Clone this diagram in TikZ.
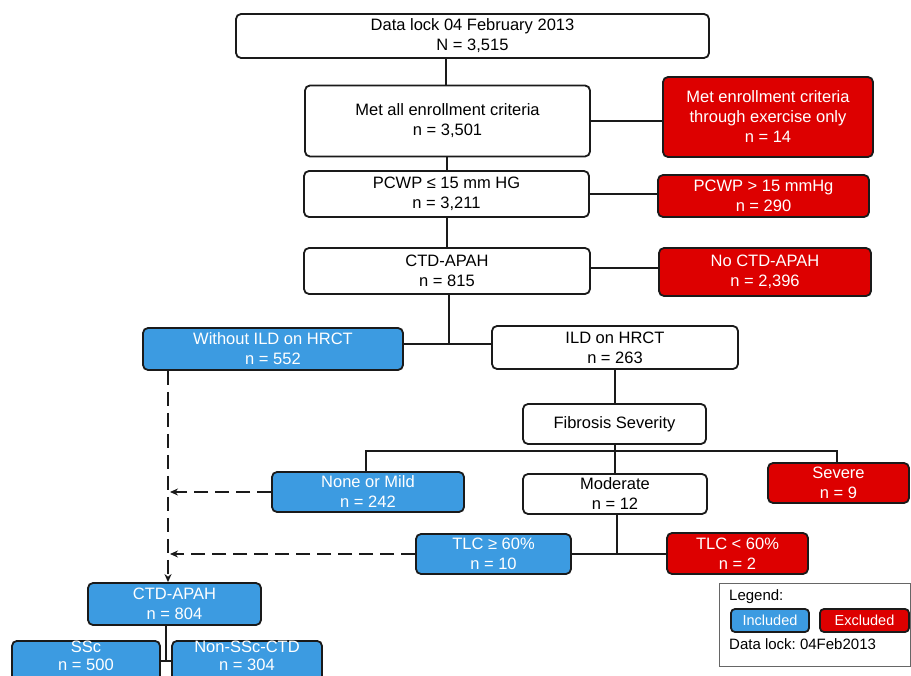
\documentclass[tikz,border=0pt]{standalone}
\usepackage{fontspec}
\setmainfont{Liberation Sans}
\usetikzlibrary{arrows.meta}
\definecolor{incblue}{HTML}{3C9BE1}
\definecolor{excred}{HTML}{DD0000}
\definecolor{edgec}{HTML}{1A1A1A}
\frenchspacing
\begin{document}
\begin{tikzpicture}[x=1pt,y=-1pt,
  box/.style={draw=edgec, line width=1.8pt, rounded corners=5pt, align=center, inner sep=0pt,
              font=\fontsize{16.5}{20}\selectfont, fill=white, text=black},
  incbox/.style={box, fill=incblue, text=white},
  excbox/.style={box, fill=excred, text=white},
  conn/.style={draw=edgec, line width=1.8pt},
  dashconn/.style={draw=edgec, line width=1.8pt, dash pattern=on 14pt off 7pt},
  tipend/.style={-{Stealth[length=8pt,width=7pt]}},
  legtext/.style={anchor=west, inner sep=0pt, font=\fontsize{15}{18}\selectfont}]
\useasboundingbox (0,0) rectangle (911,676);
\clip (0,0) rectangle (911,676);
\fill[white] (0,0) rectangle (911,676);

% main column
\node[box, minimum width=473pt, minimum height=44pt] (dl) at (472.5,36) {Data lock 04 February 2013\\N = 3,515};
\node[box, minimum width=285pt, minimum height=71pt] (met) at (447.5,121) {Met all enrollment criteria\\n = 3,501};
\node[excbox, minimum width=210pt, minimum height=80pt] (exer) at (768,117) {Met enrollment criteria\\through exercise only\\n = 14};
\node[box, minimum width=285pt, minimum height=46pt] (pcwp) at (446.5,194) {PCWP ≤ 15 mm HG\\n = 3,211};
\node[excbox, minimum width=211pt, minimum height=42pt] (pcwpx) at (763.5,196) {PCWP > 15 mmHg\\n = 290};
\node[box, minimum width=286pt, minimum height=46pt] (ctd) at (447,271) {CTD-APAH\\n = 815};
\node[excbox, minimum width=212pt, minimum height=48pt] (noctd) at (765,272) {No CTD-APAH\\n = 2,396};

\node[incbox, minimum width=260pt, minimum height=42pt] (woild) at (273,349) {Without ILD on HRCT\\n = 552};
\node[box, minimum width=246pt, minimum height=43pt] (ild) at (615,347.5) {ILD on HRCT\\n = 263};
\node[box, minimum width=183pt, minimum height=40pt] (fib) at (614.5,424) {Fibrosis Severity};
\node[incbox, minimum width=192pt, minimum height=40pt] (mild) at (368,492) {None or Mild\\n = 242};
\node[box, minimum width=184pt, minimum height=40pt] (mod) at (615,494) {Moderate\\n = 12};
\node[excbox, minimum width=141pt, minimum height=40pt] (sev) at (838.5,483) {Severe\\n = 9};
\node[incbox, minimum width=155pt, minimum height=40pt] (tlchi) at (493.5,554) {TLC ≥ 60\%\\n = 10};
\node[excbox, minimum width=141pt, minimum height=41pt] (tlclo) at (737.5,553.5) {TLC < 60\%\\n = 2};

\node[incbox, minimum width=173pt, minimum height=42pt] (ctd2) at (174.5,604) {CTD-APAH\\n = 804};
\node[incbox, minimum width=148pt, minimum height=44pt, anchor=north,
      font=\fontsize{16.5}{18.5}\selectfont] (ssc) at (86,640) {SSc\\n = 500\\[3pt]};
\node[incbox, minimum width=150pt, minimum height=44pt, anchor=north,
      font=\fontsize{16.5}{18.5}\selectfont] (nonssc) at (247,640) {Non-SSc-CTD\\n = 304\\[3pt]};

% column / row positions of the connectors
\coordinate (xa) at (446,0);
\coordinate (xb) at (447,0);
\coordinate (xc) at (449,0);
\coordinate (xd) at (615,0);
\coordinate (xe) at (366,0);
\coordinate (xf) at (837,0);
\coordinate (xg) at (617,0);
\coordinate (xh) at (166,0);
\coordinate (dv) at (168,0);
\coordinate (xtip) at (170,0);
\coordinate (ya) at (0,121);
\coordinate (yb) at (0,194);
\coordinate (yc) at (0,268);
\coordinate (yd) at (0,344);
\coordinate (ye) at (0,451);
\coordinate (yf) at (0,554);
\coordinate (yg) at (0,661);

% connectors
\draw[conn] (dl.south -| xa) -- (met.north -| xa);
\draw[conn] (met.east |- ya) -- (exer.west |- ya);
\draw[conn] (met.south -| xb) -- (pcwp.north -| xb);
\draw[conn] (pcwp.east |- yb) -- (pcwpx.west |- yb);
\draw[conn] (pcwp.south -| xb) -- (ctd.north -| xb);
\draw[conn] (ctd.east |- yc) -- (noctd.west |- yc);

\draw[conn] (ctd.south -| xc) -- (xc |- yd);
\draw[conn] (woild.east |- yd) -- (ild.west |- yd);

\draw[conn] (ild.south -| xd) -- (fib.north -| xd);
\draw[conn] (fib.south -| xd) -- (xd |- ye);
\draw[conn] (mild.north -| xe) -- (xe |- ye) -- (xf |- ye) -- (sev.north -| xf);
\draw[conn] (xd |- ye) -- (mod.north -| xd);

\draw[conn] (mod.south -| xg) -- (xg |- yf);
\draw[conn] (tlchi.east |- yf) -- (tlclo.west |- yf);

% dashed flows to included CTD-APAH
\draw[dashconn, tipend] (woild.south -| dv) -- (ctd2.north -| dv);
\draw[dashconn, tipend] (mild.west) -- (mild.west -| xtip);
\draw[dashconn, tipend] (tlchi.west |- yf) -- (xtip |- yf);

% split of included CTD-APAH
\draw[conn] (ctd2.south -| xh) -- (xh |- yg);
\draw[conn] (ssc.east |- yg) -- (nonssc.west |- yg);

% legend
\node[draw=gray!80!black, line width=1pt, minimum width=191pt, minimum height=83pt, inner sep=0pt] (legend) at (814.5,624.5) {};
\node[legtext] (legtitle) at (729,597) {Legend:};
\node[incbox, minimum width=78pt, minimum height=23pt, rounded corners=4pt, font=\fontsize{14.5}{17}\selectfont] (linc) at (770,620.5) {Included};
\node[excbox, minimum width=89pt, minimum height=23pt, rounded corners=4pt, font=\fontsize{14.5}{17}\selectfont] (lexc) at (864.5,620.5) {Excluded};
\node[legtext] (ldate) at (729,644) {Data lock: 04Feb2013};
\end{tikzpicture}
\end{document}
